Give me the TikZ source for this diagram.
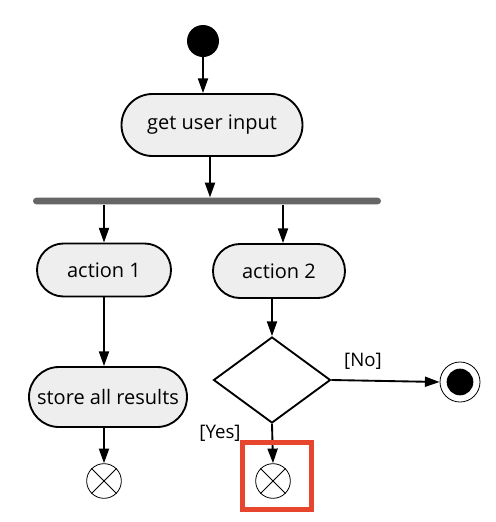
\documentclass[tikz,border=0pt]{standalone}
\usepackage{fontspec}
\setmainfont{Open Sans}
\usetikzlibrary{arrows.meta,shapes.geometric,shapes.misc}

\definecolor{actfill}{HTML}{EEEEEE}
\definecolor{forkgray}{HTML}{666666}
\definecolor{markred}{HTML}{E8452F}

\begin{document}
\begin{tikzpicture}[
    x=0.75pt, y=-0.75pt,
    activity/.style={rounded rectangle, draw, line width=1.4pt, fill=actfill, inner sep=0pt, font=\fontsize{15}{18}\selectfont},
    initial/.style={circle, fill=black, inner sep=0pt, minimum size=24pt},
    final/.style={circle, draw, line width=0.6pt, fill=white, inner sep=0pt, minimum size=30pt, path picture={\fill[black] (path picture bounding box.center) circle (10pt);}},
    flowend/.style={circle, draw, line width=0.6pt, inner sep=0pt, minimum size=26pt},
    decision/.style={diamond, draw, line width=1.4pt, fill=white, inner sep=0pt, minimum width=87.75pt, minimum height=64.5pt},
    fork/.style={rectangle, fill=forkgray, rounded corners=2.5pt, inner sep=0pt, minimum width=261pt, minimum height=5pt},
    guard/.style={font=\fontsize{14}{16}\selectfont},
    arrow/.style={-{Triangle[width=7.5pt,length=11pt]}, line width=1.4pt}
  ]
    \useasboundingbox (0,0) rectangle (496,522);

    % Start and first activity
    \node[initial] (start) at (203,41) {};
    \node[activity, minimum width=135.75pt, minimum height=46.5pt] (input) at (212,125) {get user input};

    % Fork bar
    \node[fork] (fork) at (207,201) {};

    % Parallel activities
    \node[activity, minimum width=100.5pt, minimum height=39.75pt] (act1) at (104,270) {action 1};
    \node[activity, minimum width=99pt, minimum height=40.5pt] (act2) at (279,271) {action 2};
    \node[activity, minimum width=118.5pt, minimum height=45pt] (store) at (108,397) {store all results};

    % Decision and ends
    \node[decision] (dec) at (272,380) {};
    \node[final] (done) at (460,382) {};
    \node[flowend] (end1) at (104,481) {};
    \node[flowend] (end2) at (273,481) {};
    \foreach \e in {end1,end2} {
      \draw[line width=0.6pt] (\e.north west) -- (\e.south east);
      \draw[line width=0.6pt] (\e.north east) -- (\e.south west);
    }

    % Guards
    \node[guard] (no) at (363,361) {[No]};
    \node[guard] (yes) at (220,433) {[Yes]};

    % Connectors
    \draw[arrow] (start) -- (start |- input.north);
    \draw[arrow] (input.south -| 210,0) -- (fork.north -| 210,0);
    \draw[arrow] (fork.south -| act1) -- (act1.north);
    \draw[arrow] (fork.south -| 283,0) -- (act2.north -| 283,0);
    \draw[arrow] (act1.south) -- (act1.south |- store.north);
    \draw[arrow] (act2.south -| dec) -- (dec.north);
    \draw[arrow] (dec.east) -- (done.west);
    \draw[arrow] (dec.south) -- (end2.north);
    \draw[arrow] (store.south -| end1) -- (end1.north);

    % Highlight box
    \draw[markred, line width=3.75pt] (242,442) rectangle (311,509);
  \end{tikzpicture}
\end{document}
